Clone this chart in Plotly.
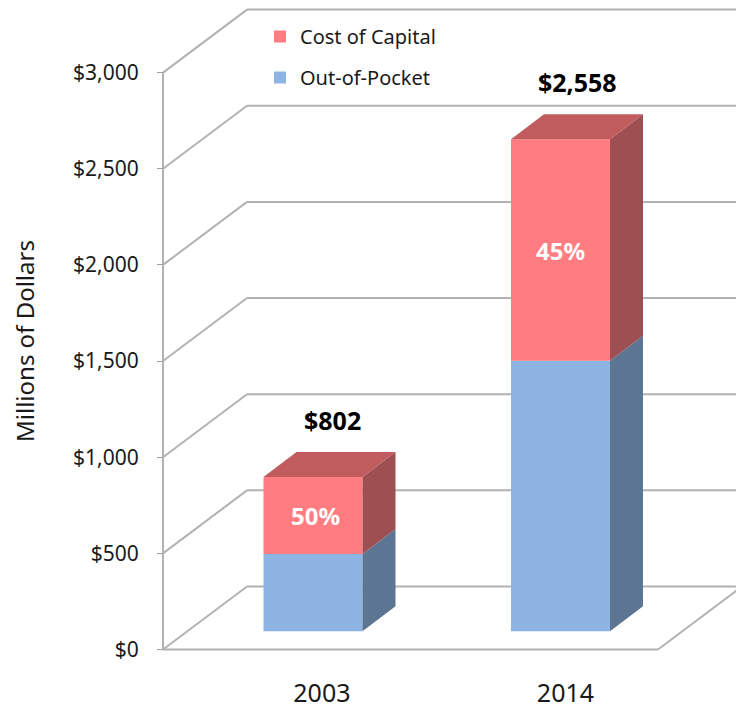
import plotly.graph_objects as go

categories = ["2003", "2014"]
out_of_pocket = [401, 1407]
cost_of_capital = [401, 1151]
totals = ["$802", "$2,558"]
shares = ["50%", "45%"]
y_ticks = [0, 500, 1000, 1500, 2000, 2500, 3000]
y_labels = ["$0", "$500", "$1,000", "$1,500", "$2,000", "$2,500", "$3,000"]

FONT = "Noto Sans"
TXT = "#1a1a1a"
GRID = "#b2b2b2"
RED, RED_SIDE, RED_TOP = "#FF7C80", "#9E4F51", "#C05B5E"
BLUE, BLUE_SIDE = "#8DB4E2", "#5C7592"

W, H = 736, 709
ML, MB = 150, 37
XU = 247.5
YU = 0.1923
X_MIN, X_MAX = (ML - 313) / XU, (W - 313) / XU
Y_MIN, Y_MAX = -(H - MB - 649.5) / YU, 649.5 / YU

WALL_L, WALL_R = (163 - 313) / XU, (658 - 313) / XU
DEPTH_X, DEPTH_Y = 84 / XU, 63 / YU
BAR_W = 0.4
BAR_DX, BAR_DY = 33 / XU, 25 / YU
BASE = 95

xs = list(range(len(categories)))
fig = go.Figure()

fig.add_bar(x=xs, y=out_of_pocket, base=BASE, width=BAR_W, name="Out-of-Pocket",
            marker=dict(color=BLUE, line_width=0), legendgroup="a", legendrank=2, hoverinfo="skip")
red_base = [BASE + v for v in out_of_pocket]
fig.add_bar(x=xs, y=cost_of_capital, base=red_base, width=BAR_W, name="Cost of Capital",
            marker=dict(color=RED, line_width=0), legendgroup="b", legendrank=1, hoverinfo="skip")


def face(px, py, color):
    fig.add_scatter(x=px + px[:1], y=py + py[:1], mode="lines", fill="toself", fillcolor=color,
                    line=dict(width=0, color=color), showlegend=False, hoverinfo="skip",
                    cliponaxis=False)


for i, x in enumerate(xs):
    l, r = x - BAR_W / 2, x + BAR_W / 2
    b0, b1 = BASE, BASE + out_of_pocket[i]
    b2 = b1 + cost_of_capital[i]
    face([r, r + BAR_DX, r + BAR_DX, r], [b0, b0 + BAR_DY, b1 + BAR_DY, b1], BLUE_SIDE)
    face([r, r + BAR_DX, r + BAR_DX, r], [b1, b1 + BAR_DY, b2 + BAR_DY, b2], RED_SIDE)
    face([l, r, r + BAR_DX, l + BAR_DX], [b2, b2, b2 + BAR_DY, b2 + BAR_DY], RED_TOP)

shapes = []


def seg(x0, y0, x1, y1):
    shapes.append(dict(type="line", xref="x", yref="y", x0=x0, y0=y0, x1=x1, y1=y1,
                       layer="below", line=dict(color=GRID, width=2)))


for t in y_ticks:
    seg(WALL_L, t, WALL_L + DEPTH_X, t + DEPTH_Y)
    seg(WALL_L + DEPTH_X, t + DEPTH_Y, WALL_R + DEPTH_X, t + DEPTH_Y)
seg(WALL_L, 0, WALL_L, y_ticks[-1])
seg(WALL_L, 0, WALL_R, 0)
seg(WALL_R, 0, WALL_R + DEPTH_X, DEPTH_Y)

annotations = []
for i, x in enumerate(xs):
    top = out_of_pocket[i] + cost_of_capital[i]
    annotations.append(dict(x=x + (0.08 if i == 0 else 0.07), y=top + 392, text="<b>%s</b>" % totals[i],
                            showarrow=False, font=dict(family=FONT, size=25, color="#000000")))
    mid = BASE + out_of_pocket[i] + cost_of_capital[i] * 0.5
    annotations.append(dict(x=x + (0.01 if i == 0 else 0), y=mid, text="<b>%s</b>" % shares[i], showarrow=False,
                            font=dict(family=FONT, size=24, color="#FFFFFF")))
annotations.append(dict(xref="paper", yref="paper", x=(24 - ML) / (W - ML), y=1 - 341 / (H - MB),
                        xanchor="center", yanchor="middle",
                        text="Millions of Dollars", textangle=-90, showarrow=False,
                        font=dict(family=FONT, size=24, color=TXT)))

fig.update_layout(
    width=W, height=H, autosize=False, barmode="overlay",
    margin=dict(l=ML, r=0, t=0, b=MB),
    paper_bgcolor="white", plot_bgcolor="white",
    font=dict(family=FONT, size=21, color=TXT),
    shapes=shapes, annotations=annotations,
    legend=dict(x=(260 - ML) / (W - ML), xanchor="left", y=1 - 17 / (H - MB), yanchor="top",
                traceorder="grouped", tracegroupgap=12, bgcolor="rgba(0,0,0,0)",
                font=dict(family=FONT, size=20, color=TXT)),
    xaxis=dict(range=[X_MIN, X_MAX], tickmode="array", tickvals=[0.036, 1.02], ticktext=categories,
               showgrid=False, zeroline=False, showline=False, ticks="",
               ticklabelstandoff=4, tickfont=dict(family=FONT, size=25, color=TXT)),
    yaxis=dict(range=[Y_MIN, Y_MAX], tickmode="array", tickvals=y_ticks, ticktext=y_labels,
               showgrid=False, zeroline=False, showline=False,
               anchor="free", position=(163 - ML) / (W - ML), side="left",
               ticks="outside", ticklen=6, tickwidth=1, tickcolor="#a0a0a0",
               ticklabelstandoff=14, tickfont=dict(family=FONT, size=21, color=TXT)),
)

fig.write_html("out.html", config=dict(displayModeBar=False),
               post_script="document.body.style.margin='0';document.body.style.overflow='hidden';")
